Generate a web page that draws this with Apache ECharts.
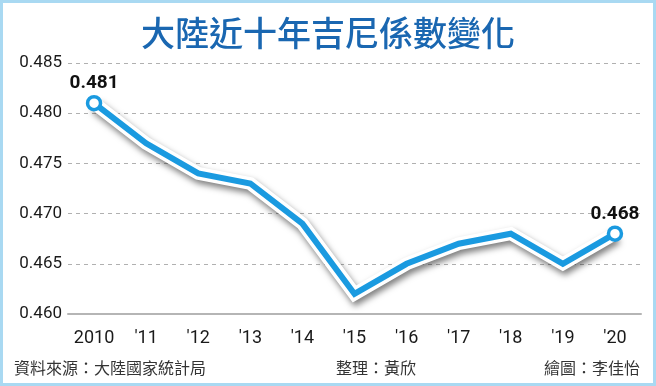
<!DOCTYPE html>
<html><head><meta charset="utf-8">
<script src="https://cdn.jsdelivr.net/npm/echarts@6/dist/echarts.min.js"></script>
<style>html,body{margin:0;padding:0;background:#fff}#c{width:656px;height:386px}</style>
</head><body><div id="c"></div>
<script>
const categories = ['2010', "'11", "'12", "'13", "'14", "'15", "'16", "'17", "'18", "'19", "'20"];
const gini = [0.481, 0.477, 0.474, 0.473, 0.469, 0.462, 0.465, 0.467, 0.468, 0.465, 0.468];
const yTicks = [0.460, 0.465, 0.470, 0.475, 0.480, 0.485];
const titleText = '大陸近十年吉尼係數變化';
const sourceText = '資料來源：大陸國家統計局';
const editorText = '整理：黃欣';
const artText = '繪圖：李佳怡';
const labeledIdx = [0, gini.length - 1];

const chart = echarts.init(document.getElementById('c'), null, {renderer: 'canvas'});
const cjk = '"Noto Sans CJK TC", "Noto Sans CJK SC", sans-serif';
const num = 'Roboto, "DejaVu Sans", sans-serif';
chart.setOption({
  animation: false,
  backgroundColor: '#fff',
  title: {
    text: titleText, left: 'center', top: 11,
    textStyle: {fontFamily: cjk, fontSize: 34, fontWeight: 500, color: '#1a67b1'}
  },
  grid: {left: 68, right: 15, top: 63, bottom: 72},
  xAxis: {
    type: 'category', data: categories, boundaryGap: true,
    axisLine: {lineStyle: {color: '#b5b5b5', width: 2}},
    axisTick: {alignWithLabel: true, interval: 0, length: 7, lineStyle: {color: '#b5b5b5', width: 2}},
    axisLabel: {interval: 0, fontFamily: num, fontSize: 18, color: '#1a1a1a', margin: 15}
  },
  yAxis: {
    type: 'value', min: yTicks[0], max: yTicks[yTicks.length - 1], interval: 0.005,
    axisLine: {show: false}, axisTick: {show: false},
    axisLabel: {fontFamily: num, fontSize: 17, color: '#1a1a1a', margin: 6,
      formatter: v => v.toFixed(3)},
    splitLine: {lineStyle: {color: '#b0b0b0', type: [4, 4], width: 1}}
  },
  series: [
    {
      type: 'line', data: gini, symbol: 'none', silent: true, z: 2,
      lineStyle: {color: '#ffffff', width: 13, shadowColor: 'rgba(0,0,0,0.5)', shadowBlur: 6, shadowOffsetX: 2, shadowOffsetY: 4, join: 'miter'}
    },
    {
      type: 'line', z: 3,
      data: gini.map((v, i) => labeledIdx.includes(i)
        ? {value: v, symbol: 'circle', symbolSize: 13, label: {show: true}}
        : {value: v, symbol: 'none'}),
      lineStyle: {color: '#1a9ae0', width: 6, join: 'miter'},
      itemStyle: {color: '#ffffff', borderColor: '#1a9ae0', borderWidth: 3.5},
      label: {show: false, position: 'top', distance: 2, fontFamily: num, fontSize: 19, fontWeight: 'bold', color: '#111',
        formatter: p => p.value.toFixed(3)}
    }
  ],
  graphic: [
    {type: 'rect', shape: {x: 1.5, y: 1.5, width: 653, height: 383}, style: {fill: 'none', stroke: '#a9d9f2', lineWidth: 3}, z: 100},
    {type: 'text', left: 14, top: 360, style: {text: sourceText, font: '16px ' + cjk, fill: '#333'}},
    {type: 'text', left: 336, top: 360, style: {text: editorText, font: '16px ' + cjk, fill: '#333'}},
    {type: 'text', right: 16, top: 360, style: {text: artText, font: '16px ' + cjk, fill: '#333'}}
  ]
});
</script></body></html>
